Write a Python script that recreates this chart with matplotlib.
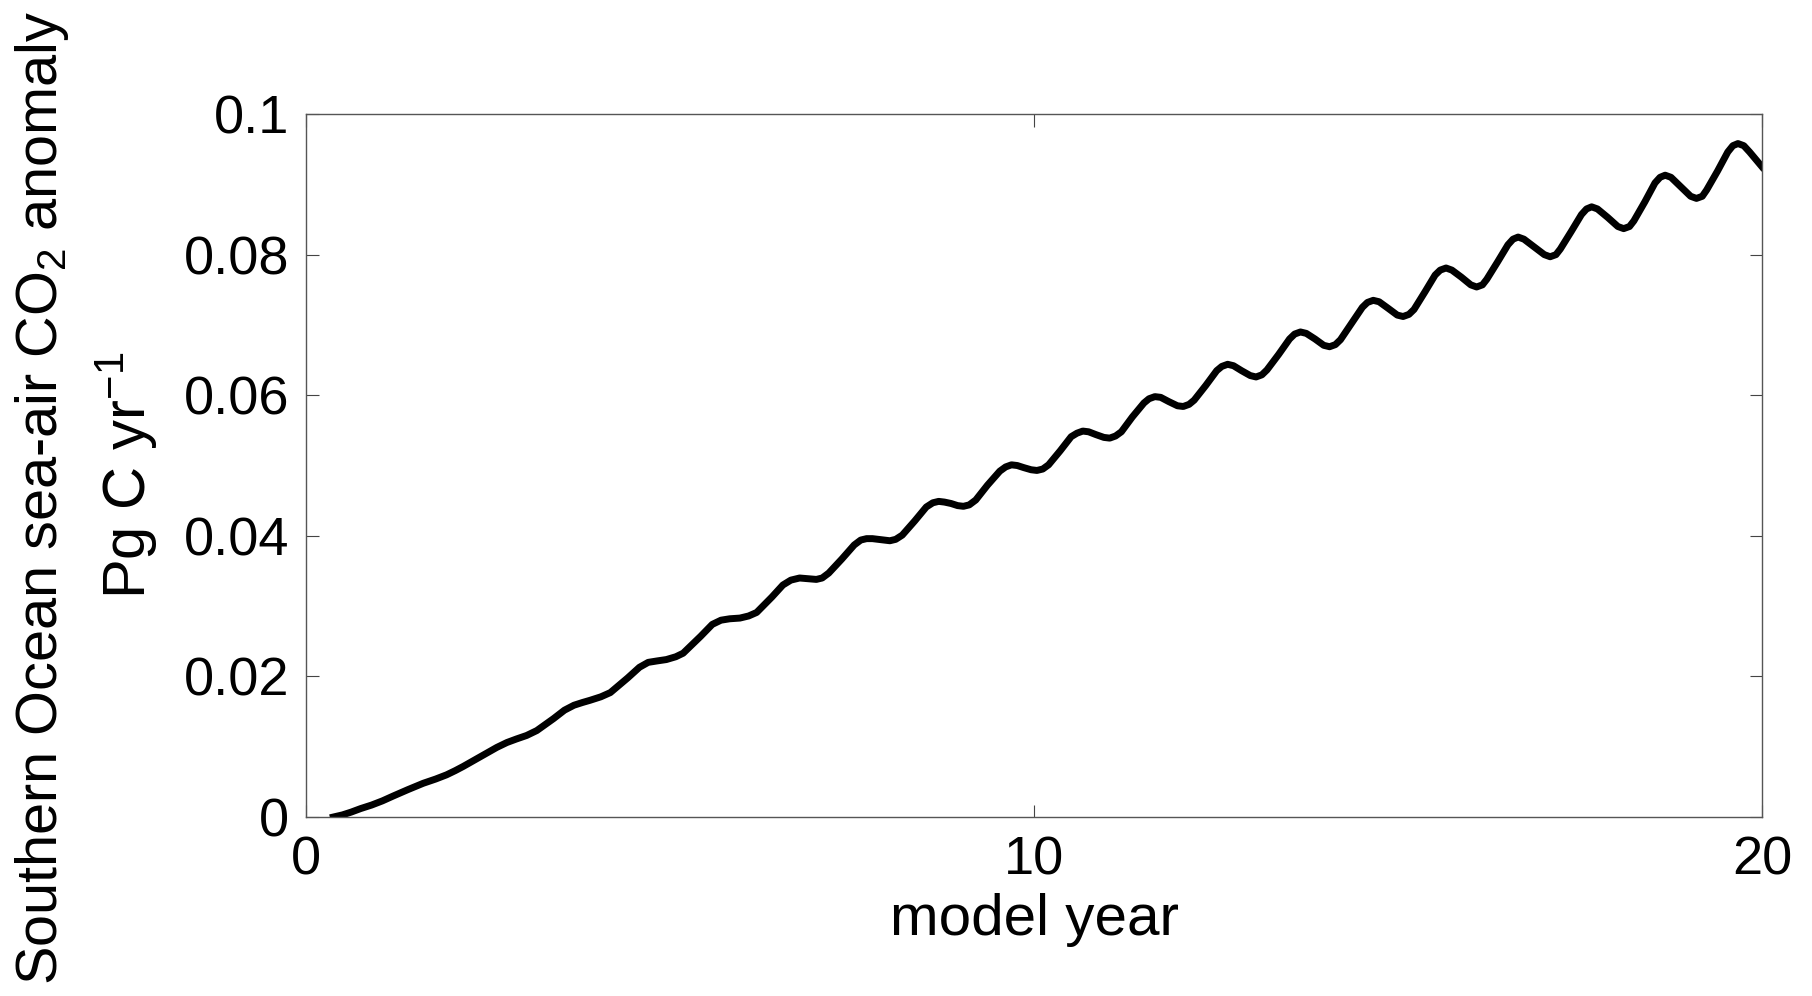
import numpy as np
import matplotlib
matplotlib.use("Agg")
import matplotlib.pyplot as plt

plt.rcParams['font.family'] = ['Liberation Sans', 'DejaVu Sans']
plt.rcParams['mathtext.fontset'] = 'custom'
plt.rcParams['mathtext.rm'] = 'Liberation Sans'
plt.rcParams['mathtext.it'] = 'Liberation Sans:italic'
plt.rcParams['mathtext.default'] = 'regular'

# model year and sea-air CO2 flux anomaly (Pg C / yr)
years = [0.375, 0.50, 0.62, 0.75, 0.90, 1.05, 1.20, 1.40, 1.61, 1.78, 1.93, 2.05,
         2.16, 2.40, 2.62, 2.76, 2.89, 3.03, 3.17, 3.40, 3.55, 3.68, 3.80, 3.90,
         4.05, 4.18, 4.42, 4.58, 4.70, 4.82, 4.95, 5.08, 5.18, 5.42, 5.58, 5.70,
         5.82, 5.96, 6.08, 6.19, 6.40, 6.55, 6.66, 6.78, 6.90,
         7.01, 7.09, 7.18, 7.36, 7.53, 7.62, 7.70, 7.78, 7.86, 7.94,
         8.02, 8.10, 8.19, 8.36, 8.52, 8.61, 8.69, 8.77, 8.86, 8.95,
         9.03, 9.11, 9.20, 9.36, 9.53, 9.61, 9.69, 9.77, 9.86, 9.96,
         10.04, 10.12, 10.20, 10.36, 10.51, 10.59, 10.67, 10.75, 10.85, 10.96,
         11.04, 11.12, 11.20, 11.35, 11.51, 11.58, 11.66, 11.74, 11.85, 11.97,
         12.05, 12.13, 12.20, 12.36, 12.51, 12.58, 12.66, 12.74, 12.85, 12.97,
         13.05, 13.13, 13.20, 13.36, 13.51, 13.58, 13.66, 13.74, 13.86, 13.98,
         14.06, 14.14, 14.21, 14.36, 14.51, 14.58, 14.66, 14.74, 14.86, 14.99,
         15.07, 15.15, 15.22, 15.37, 15.51, 15.58, 15.66, 15.74, 15.87, 16.00,
         16.08, 16.16, 16.22, 16.37, 16.51, 16.58, 16.65, 16.73, 16.87, 17.01,
         17.09, 17.17, 17.23, 17.38, 17.52, 17.59, 17.66, 17.74, 17.88, 18.02,
         18.10, 18.18, 18.24, 18.39, 18.53, 18.60, 18.67, 18.75, 18.88, 19.02,
         19.10, 19.18, 19.24, 19.39, 19.53, 19.60, 19.67, 19.75, 19.83, 19.92, 20.0]
flux = [0.0000, 0.0003, 0.0007, 0.0012, 0.0017, 0.0023, 0.0030, 0.0039, 0.0048, 0.0054, 0.0060, 0.0066,
        0.0072, 0.0086, 0.0099, 0.0106, 0.0111, 0.0116, 0.0123, 0.0140, 0.0152, 0.0159, 0.0163, 0.0166,
        0.0171, 0.0177, 0.0198, 0.0213, 0.0220, 0.0222, 0.0224, 0.0228, 0.0233, 0.0257, 0.0274, 0.0280,
        0.0282, 0.0283, 0.0286, 0.0291, 0.0313, 0.0330, 0.0337, 0.0340, 0.0339,
        0.0338, 0.0340, 0.0347, 0.0367, 0.0387, 0.0394, 0.0396, 0.0396, 0.0395, 0.0394,
        0.0393, 0.0395, 0.0401, 0.0421, 0.0441, 0.0447, 0.0449, 0.0448, 0.0446, 0.0443,
        0.0442, 0.0444, 0.0451, 0.0472, 0.0492, 0.0498, 0.0501, 0.0500, 0.0497, 0.0494,
        0.0493, 0.0495, 0.0501, 0.0521, 0.0541, 0.0546, 0.0549, 0.0548, 0.0544, 0.0540,
        0.0539, 0.0542, 0.0548, 0.0569, 0.0589, 0.0595, 0.0598, 0.0597, 0.0591, 0.0585,
        0.0584, 0.0587, 0.0593, 0.0614, 0.0635, 0.0641, 0.0644, 0.0642, 0.0635, 0.0628,
        0.0626, 0.0629, 0.0636, 0.0658, 0.0680, 0.0687, 0.0690, 0.0688, 0.0680, 0.0671,
        0.0669, 0.0672, 0.0679, 0.0702, 0.0725, 0.0732, 0.0735, 0.0733, 0.0724, 0.0714,
        0.0712, 0.0715, 0.0722, 0.0747, 0.0771, 0.0778, 0.0781, 0.0778, 0.0768, 0.0757,
        0.0754, 0.0757, 0.0765, 0.0790, 0.0814, 0.0822, 0.0825, 0.0822, 0.0811, 0.0800,
        0.0797, 0.0800, 0.0808, 0.0833, 0.0857, 0.0865, 0.0868, 0.0865, 0.0853, 0.0840,
        0.0837, 0.0840, 0.0848, 0.0875, 0.0902, 0.0910, 0.0913, 0.0910, 0.0897, 0.0883,
        0.0880, 0.0883, 0.0892, 0.0919, 0.0946, 0.0955, 0.0958, 0.0955, 0.0946, 0.0935, 0.0925]

xticks = [0, 10, 20]
yticks = [0, 0.02, 0.04, 0.06, 0.08, 0.1]
yticklabels = ['0', '0.02', '0.04', '0.06', '0.08', '0.1']

fig = plt.figure(figsize=(18.12, 9.96), dpi=100)
ax = fig.add_axes([0.1689, 0.1797, 0.8035, 0.7058])

ax.plot(years, flux, color='black', lw=5, solid_joinstyle='round')

ax.set_xlim(0, 20)
ax.set_ylim(0, 0.1)
ax.set_xticks(xticks)
ax.set_xticklabels([str(t) for t in xticks])
ax.set_yticks(yticks)
ax.set_yticklabels(yticklabels)
ax.tick_params(direction='in', length=9, width=0.8, top=True, right=True,
               labelsize=39, color='#444444')
ax.tick_params(axis='x', pad=13)
ax.tick_params(axis='y', pad=12)
for sp in ax.spines.values():
    sp.set_color('#555555')
    sp.set_linewidth(1.0)

ax.set_xlabel('model year', fontsize=42, labelpad=6)

# two-line y label, placed by hand
fig.text(0.023, 0.500, 'Southern Ocean sea-air CO$_2$ anomaly', rotation=90,
         ha='center', va='center', fontsize=41.5)
fig.text(0.070, 0.523, 'Pg C yr$^{-1}$', rotation=90,
         ha='center', va='center', fontsize=43)

fig.savefig('out.png', dpi=100, facecolor='white')
